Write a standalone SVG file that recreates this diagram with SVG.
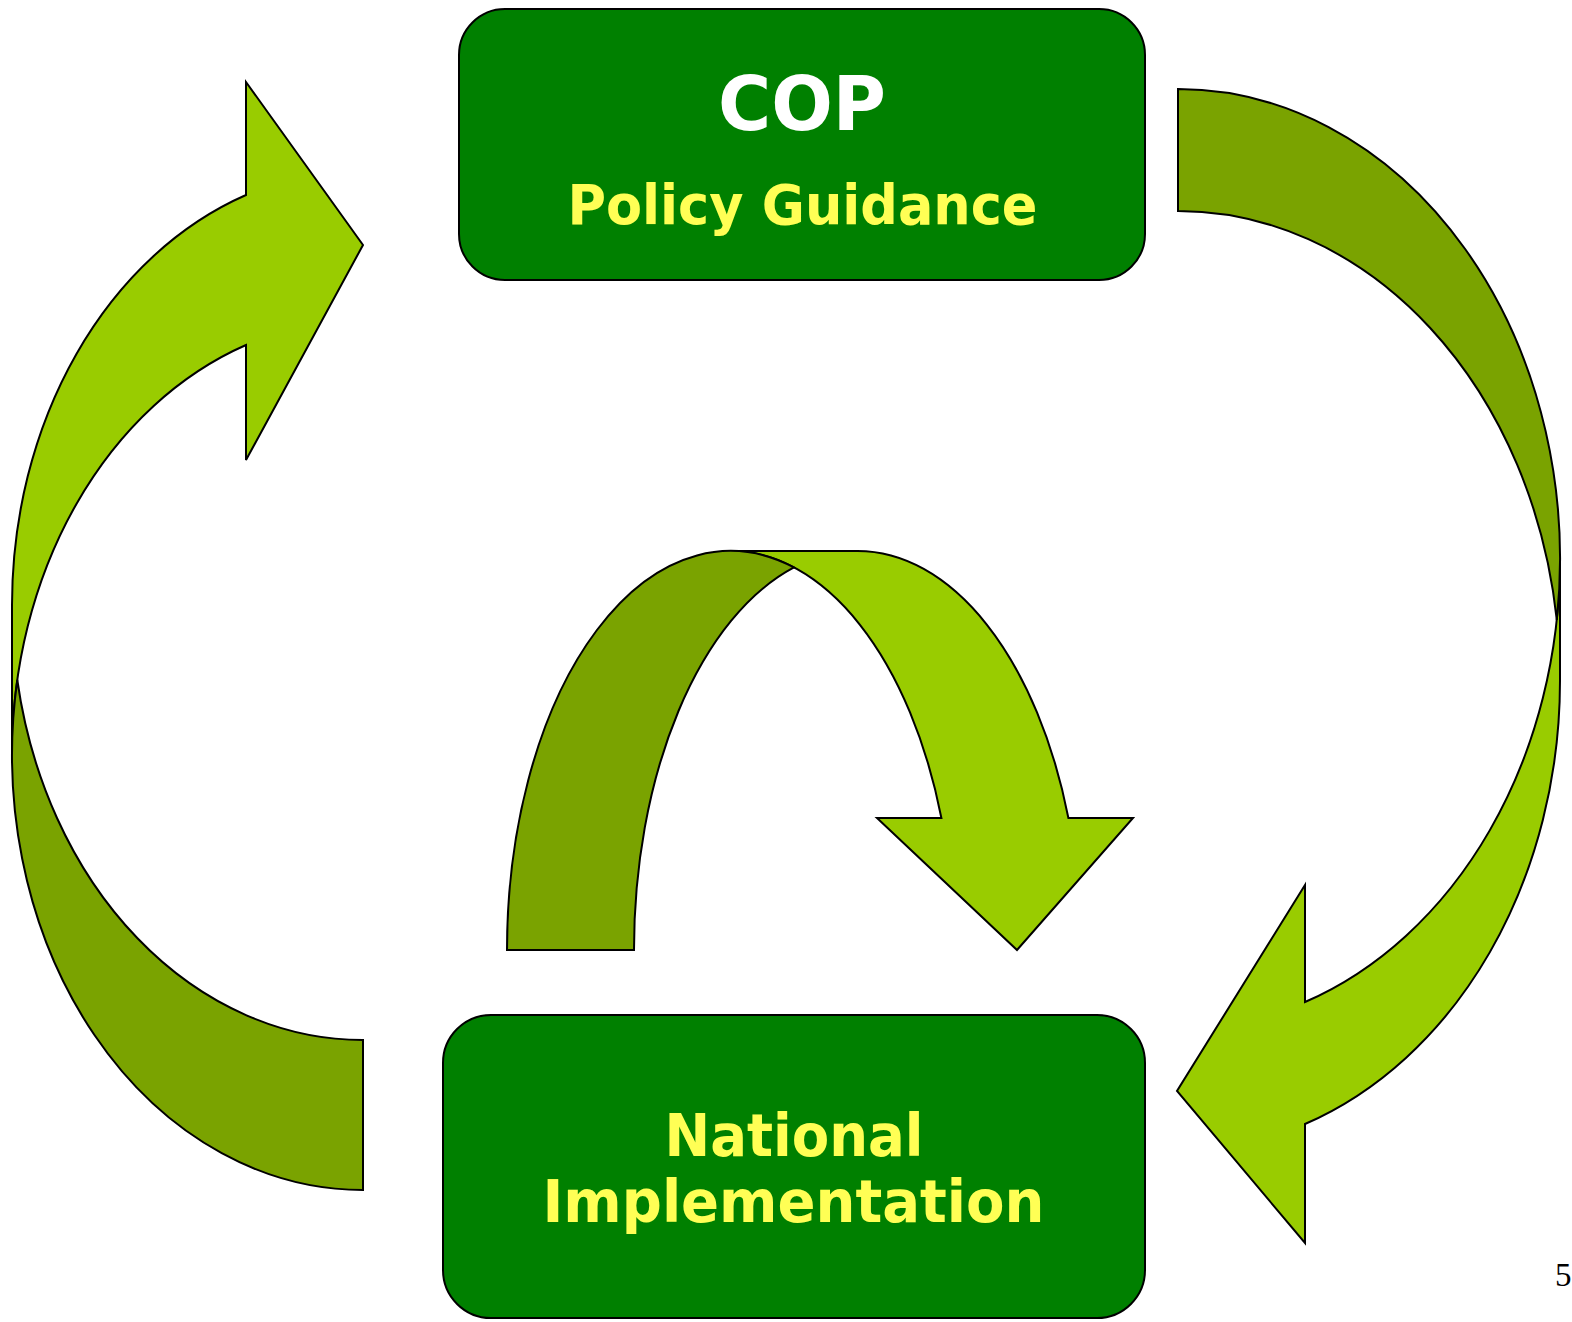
<svg xmlns="http://www.w3.org/2000/svg" width="1572" height="1322" viewBox="0 0 1572 1322">
  <style>
    .box { fill: #008000; stroke: #000000; stroke-width: 2; }
    .light { fill: #99CC00; stroke: #000000; stroke-width: 2; stroke-linejoin: miter; }
    .dark { fill: #7AA300; stroke: #000000; stroke-width: 2; stroke-linejoin: miter; }
    .lbl { font-family: "DejaVu Sans", Verdana, sans-serif; font-weight: bold; text-anchor: middle; }
    .white { fill: #FFFFFF; }
    .yellow { fill: #FFFF55; }
    .pg { font-family: "Liberation Serif", "Times New Roman", serif; fill: #000000; }
  </style>
  <rect width="1572" height="1322" fill="#FFFFFF"/>

  <g id="connectors">
    <g id="arrow-left">
      <path class="light" d="M 12,755 A 351 435 0 0 1 246,345 L 246,460 L 363,245 L 246,82 L 246,195 A 351 435 0 0 0 12,605 Z"/>
      <path class="dark" d="M 363,1040 L 363,1190 A 351 435 0 0 1 17.3,680 A 351 435 0 0 0 363,1040 Z"/>
    </g>
    <g id="arrow-right">
      <path class="light" d="M 1560,559 A 382 470 0 0 1 1305,1002 L 1305,885 L 1177,1091 L 1305,1243 L 1305,1124 A 382 470 0 0 0 1560,681 Z"/>
      <path class="dark" d="M 1178,211 L 1178,89 A 382 470 0 0 1 1556.8,620 A 382 470 0 0 0 1178,211 Z"/>
    </g>
    <g id="arrow-middle">
      <path class="light" d="M 857.5,551 A 223.5 399 0 0 1 1068.4,818 L 1133,818 L 1017,950 L 877,818 L 941.4,818 A 223.5 399 0 0 0 730.5,551 Z"/>
      <path class="dark" d="M 634,950 L 507,950 A 223.5 399 0 0 1 794,567.4 A 223.5 399 0 0 0 634,950 Z"/>
    </g>
  </g>

  <g id="node-cop">
    <rect class="box" x="459" y="9" width="686" height="271" rx="46" ry="46"/>
    <text class="lbl white" x="802" y="130" font-size="74" textLength="168" lengthAdjust="spacingAndGlyphs">COP</text>
    <text class="lbl yellow" x="802.5" y="224" font-size="56" textLength="470" lengthAdjust="spacingAndGlyphs">Policy Guidance</text>
  </g>

  <g id="node-national">
    <rect class="box" x="443" y="1015" width="702" height="303" rx="48" ry="48"/>
    <text class="lbl yellow" x="794" y="1156" font-size="58" textLength="259" lengthAdjust="spacingAndGlyphs">National</text>
    <text class="lbl yellow" x="793.5" y="1222" font-size="58" textLength="502" lengthAdjust="spacingAndGlyphs">Implementation</text>
  </g>

  <text class="pg" x="1555" y="1286" font-size="33">5</text>
</svg>
